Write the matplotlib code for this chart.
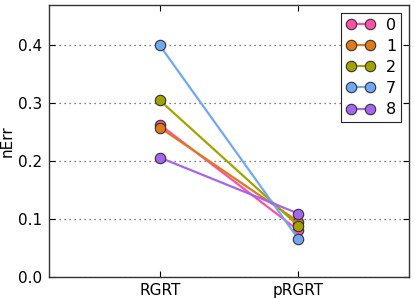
import matplotlib
matplotlib.use("Agg")
import matplotlib.pyplot as plt

categories = ["RGRT", "pRGRT"]
series_names = ["0", "1", "2", "7", "8"]
values = {
    "0": [0.263, 0.080],
    "1": [0.258, 0.095],
    "2": [0.305, 0.088],
    "7": [0.400, 0.065],
    "8": [0.206, 0.109],
}
colors = ["#ff4fa8", "#e07a18", "#a3a300", "#70a8f5", "#a565f0"]

fig = plt.figure(figsize=(4.15, 2.98), dpi=100)
ax = fig.add_axes([0.118, 0.072, 0.868, 0.911])
x = list(range(len(categories)))
for name, c in zip(series_names, colors):
    ax.plot(x, values[name], color=c, lw=1.6, marker="o", markersize=7.5,
            markerfacecolor=c, markeredgecolor="#333333", markeredgewidth=0.8,
            label=name)

ax.set_xlim(-0.8, 1.8)
ax.set_ylim(0, 0.47)
ax.set_xticks(x)
ax.set_xticklabels(categories)
ax.set_yticks([0.0, 0.1, 0.2, 0.3, 0.4])
ax.set_yticklabels(["0.0", "0.1", "0.2", "0.3", "0.4"])
ax.set_ylabel("nErr", fontsize=11, labelpad=2)
ax.yaxis.grid(True, linestyle=(0, (1, 3)), color="#555555", lw=0.9)
ax.set_axisbelow(True)
ax.tick_params(direction="in", length=4, top=True, right=True, labelsize=11, pad=5)
for s in ax.spines.values():
    s.set_color("#333333")
    s.set_linewidth(1.0)
leg = ax.legend(loc="upper right", numpoints=2, fancybox=False, framealpha=1,
                edgecolor="#222222", fontsize=11.5, handlelength=1.8,
                borderaxespad=0.5, labelspacing=0.38, handletextpad=0.7,
                borderpad=0.3)
leg.get_frame().set_linewidth(0.8)
fig.savefig("out.png", dpi=100)
